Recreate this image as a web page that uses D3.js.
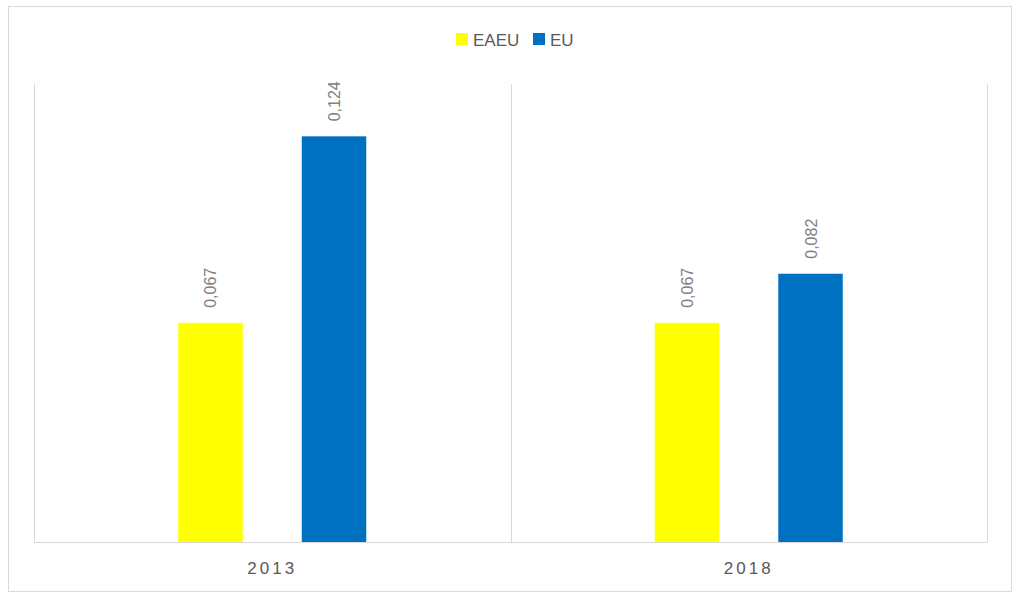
<!DOCTYPE html>
<html>
<head>
<meta charset="utf-8">
<script src="https://cdn.jsdelivr.net/npm/d3@7"></script>
<style>
  html, body { margin: 0; padding: 0; background: #fff; }
  svg { display: block; font-family: "Liberation Sans", "DejaVu Sans", sans-serif; }
</style>
</head>
<body>
<svg id="chart" width="1024" height="600"></svg>
<script>
const categories = ["2013", "2018"];
const series = ["EAEU", "EU"];
const eaeuValues = [0.067, 0.067];
const euValues = [0.124, 0.082];
const colors = ["#ffff00", "#0070c0"];

const svg = d3.select("#chart");
const W = 1024, H = 600;

// outer frame
svg.append("rect")
  .attr("x", 8.5).attr("y", 6.5)
  .attr("width", 1003).attr("height", 585)
  .attr("fill", "#fff").attr("stroke", "#d9d9d9").attr("stroke-width", 1);

const plot = { left: 34, right: 987, top: 84, bottom: 542 };

const x0 = d3.scaleBand().domain(categories).range([plot.left, plot.right]).paddingInner(0).paddingOuter(0);
const x1 = d3.scaleBand().domain(series).range([0, x0.bandwidth()]).paddingInner(0.478).paddingOuter(1.168);
const y = d3.scaleLinear().domain([0, 0.14]).range([plot.bottom, plot.top]);

// vertical gridlines at category boundaries
const bounds = categories.map(c => x0(c)).concat([x0(categories[categories.length - 1]) + x0.bandwidth()]);
svg.append("g").selectAll("line").data(bounds).join("line")
  .attr("x1", d => Math.round(d) + 0.5).attr("x2", d => Math.round(d) + 0.5)
  .attr("y1", plot.top).attr("y2", plot.bottom)
  .attr("stroke", "#d9d9d9").attr("stroke-width", 1);

// baseline axis
const xAxis = d3.axisBottom(x0).tickSize(0).tickPadding(0);
const gx = svg.append("g").attr("transform", `translate(0,${plot.bottom + 0.5})`).call(xAxis);
gx.select(".domain").attr("stroke", "#d9d9d9").attr("d", `M${plot.left},0H${plot.right}`);
gx.selectAll("text")
  .attr("y", 31).attr("dy", 0)
  .attr("fill", "#595959")
  .style("font-size", "17px")
  .style("letter-spacing", "3px")
  .attr("text-anchor", "middle");

const data = categories.map((c, i) => ({ cat: c, vals: [eaeuValues[i], euValues[i]] }));
const fmt = v => d3.format(".3f")(v).replace(".", ",");

const groups = svg.append("g").selectAll("g").data(data).join("g")
  .attr("transform", d => `translate(${x0(d.cat)},0)`);

groups.selectAll("rect").data(d => d.vals.map((v, j) => ({ s: series[j], v, j }))).join("rect")
  .attr("x", d => x1(d.s))
  .attr("y", d => y(d.v))
  .attr("width", x1.bandwidth())
  .attr("height", d => y(0) - y(d.v))
  .attr("fill", d => colors[d.j]);

groups.selectAll("text.lbl").data(d => d.vals.map((v, j) => ({ s: series[j], v, j }))).join("text")
  .attr("class", "lbl")
  .attr("transform", d => `translate(${x1(d.s) + x1.bandwidth() / 2 + 6},${y(d.v) - 15}) rotate(-90)`)
  .attr("text-anchor", "start")
  .attr("fill", "#808080")
  .style("font-size", "16px")
  .text(d => fmt(d.v));

// legend
const legend = svg.append("g");
const legendItems = [
  { name: series[0], color: colors[0], x: 456 },
  { name: series[1], color: colors[1], x: 533 }
];
legendItems.forEach(it => {
  legend.append("rect").attr("x", it.x).attr("y", 33).attr("width", 12).attr("height", 12).attr("fill", it.color);
  legend.append("text").attr("x", it.x + 17).attr("y", 46)
    .attr("fill", "#595959").style("font-size", "17px").text(it.name);
});
</script>
</body>
</html>
